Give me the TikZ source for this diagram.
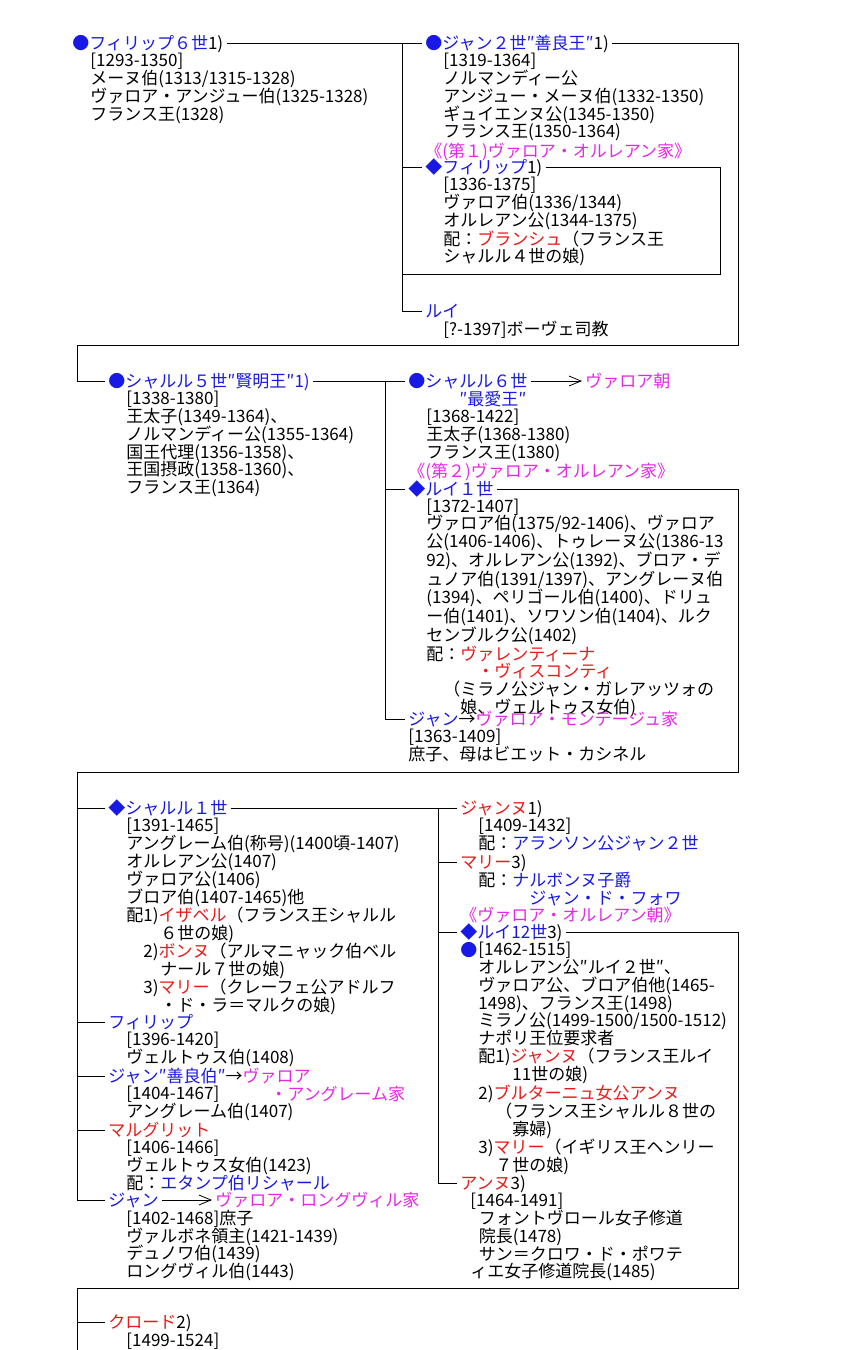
\documentclass[tikz,border=0pt]{standalone}
\usepackage{fontspec}
\setmainfont{Noto Sans CJK JP}
\usepackage{tikz}
\usetikzlibrary{arrows.meta}
\usepackage{xcolor}
\definecolor{nmblue}{RGB}{25,25,230}
\definecolor{hsmag}{RGB}{230,40,230}
\definecolor{wred}{RGB}{235,25,25}
\tikzset{
  every node/.style={font=\fontsize{17}{17.9}\selectfont},
  nm/.style={anchor=west, inner xsep=3pt, inner ysep=0pt, text height=14pt, text depth=1pt, text=nmblue},
  nmred/.style={nm, text=wred},
  house/.style={nm, text=hsmag},
  info/.style={anchor=north west, inner sep=0pt, align=left, yshift=8.5pt, execute at begin node={\rule{0pt}{15pt}}},
  arr/.style={-{Straight Barb[length=12pt,width=10pt]}},
}

\begin{document}
\begin{tikzpicture}[x=1pt,y=-1pt,line width=0.8pt]
        \useasboundingbox (0,0) rectangle (860,1350);
        \node[nm] (phil6) at (69,43) {●フィリップ６世\textcolor{black}{1)}};
        \node[info] (phil6i) at (90,61) {[1293-1350]\\メーヌ伯(1313/1315-1328)\\ヴァロア・アンジュー伯(1325-1328)\\フランス王(1328)};
        \node[nm] (jean2) at (422,43) {●ジャン２世″善良王″\textcolor{black}{1)}};
        \node[info] (jean2i) at (443,61) {[1319-1364]\\ノルマンディー公\\アンジュー・メーヌ伯(1332-1350)\\ギュイエンヌ公(1345-1350)\\フランス王(1350-1364)};
        \node[house] (orl1) at (422,151) {《(第１)ヴァロア・オルレアン家》};
        \node[nm] (phil) at (422,167) {◆フィリップ\textcolor{black}{1)}};
        \node[info] (phili) at (443,185) {[1336-1375]\\ヴァロア伯(1336/1344)\\オルレアン公(1344-1375)\\配：\textcolor{wred}{ブランシュ}（フランス王\\シャルル４世の娘)};
        \node[nm] (louisb) at (422,311) {ルイ};
        \node[info] (louisbi) at (443,329) {[?-1397]ボーヴェ司教};
        \coordinate (t1) at (402,0);
        \coordinate (c1) at (720,274);
        \coordinate (r1) at (738,345);
        \coordinate (l1) at (77,345);
        \draw (phil6.east) -- (phil6.east -| jean2.west);
        \draw (phil6.east -| t1) |- (louisb.west);
        \draw (t1 |- phil.west) -- (phil.west);
        \draw (phil.east) -| (c1) -- (c1 -| t1);

        \node[nm] (charles5) at (105,381) {●シャルル５世″賢明王″1)};
        \node[info] (charles5i) at (126,399) {[1338-1380]\\王太子(1349-1364)、\\ノルマンディー公(1355-1364)\\国王代理(1356-1358)、\\王国摂政(1358-1360)、\\フランス王(1364)};
        \node[nm] (charles6) at (405,381) {●シャルル６世};
        \node[nm] (charles6b) at (456,399) {″最愛王″};
        \node[house] (valoisd) at (582,381) {ヴァロア朝};
        \node[info] (charles6i) at (426,417) {[1368-1422]\\王太子(1368-1380)\\フランス王(1380)};
        \node[house] (orl2) at (405,471) {《(第２)ヴァロア・オルレアン家》};
        \node[nm] (louis1) at (405,489) {◆ルイ１世};
        \node[info, font=\fontsize{17}{17.6}\selectfont] (louis1i) at (426,507) {[1372-1407]\\ヴァロア伯(1375/92-1406)、ヴァロア\\公(1406-1406)、トゥレーヌ公(1386-13\\92)、オルレアン公(1392)、ブロア・デ\\ュノア伯(1391/1397)、アングレーヌ伯\\(1394)、ペリゴール伯(1400)、ドリュ\\ー伯(1401)、ソワソン伯(1404)、ルク\\センブルク公(1402)\\配：\textcolor{wred}{ヴァレンティーナ}\\\hspace*{3em}\textcolor{wred}{・ヴィスコンティ}\\\hspace*{1em}（ミラノ公ジャン・ガレアッツォの\\\hspace*{2em}娘、ヴェルトゥス女伯)};
        \node[nm] (jeanm) at (405,719) {ジャン\textcolor{black}{→}\textcolor{hsmag}{ヴァロア・モンテージュ家}};
        \node[info] (jeanmi) at (408,737) {[1363-1409]\\庶子、母はビエット・カシネル};
        \coordinate (t2) at (385,0);
        \coordinate (r2) at (738,772);
        \coordinate (l2) at (77,772);
        \draw (jean2.east) -| (r1) -- (l1) |- (charles5.west);
        \draw (charles5.east) -- (charles5.east -| charles6.west);
        \draw (charles5.east -| t2) |- (jeanm.west);
        \draw (t2 |- louis1.west) -- (louis1.west);
        \draw[arr] (charles6.east) -- (charles6.east -| valoisd.west);

        \node[nm] (charles1) at (105,808) {◆シャルル１世};
        \node[info] (charles1i) at (126,826) {[1391-1465]\\アングレーム伯(称号)(1400頃-1407)\\オルレアン公(1407)\\ヴァロア公(1406)\\ブロア伯(1407-1465)他\\配1)\textcolor{wred}{イザベル}（フランス王シャルル\\\hspace*{2em}６世の娘)\\\hspace*{1em}2)\textcolor{wred}{ボンヌ}（アルマニャック伯ベル\\\hspace*{2em}ナール７世の娘)\\\hspace*{1em}3)\textcolor{wred}{マリー}（クレーフェ公アドルフ\\\hspace*{2em}・ド・ラ＝マルクの娘)};
        \node[nm] (philv) at (105,1022) {フィリップ};
        \node[info] (philvi) at (126,1040) {[1396-1420]\\ヴェルトゥス伯(1408)};
        \node[nm] (jeana) at (105,1076) {ジャン″善良伯″\textcolor{black}{→}\textcolor{hsmag}{ヴァロア}};
        \node[house] (jeanah) at (267,1094) {・アングレーム家};
        \node[info] (jeanai) at (126,1094) {[1404-1467]\\アングレーム伯(1407)};
        \node[nmred] (marg) at (105,1130) {マルグリット};
        \node[info] (margi) at (126,1148) {[1406-1466]\\ヴェルトゥス女伯(1423)\\配：\textcolor{nmblue}{エタンプ伯リシャール}};
        \node[nm] (jeanl) at (105,1200) {ジャン};
        \node[house] (longv) at (212,1200) {ヴァロア・ロングヴィル家};
        \node[info] (jeanli) at (126,1218) {[1402-1468]庶子\\ヴァルボネ領主(1421-1439)\\デュノワ伯(1439)\\ロングヴィル伯(1443)};
        \draw (louis1.east) -| (r2) -- (l2) |- (jeanl.west);
        \draw (l2 |- charles1.west) -- (charles1.west);
        \draw (l2 |- philv.west) -- (philv.west);
        \draw (l2 |- jeana.west) -- (jeana.west);
        \draw (l2 |- marg.west) -- (marg.west);
        \draw[arr] (jeanl.east) -- (jeanl.east -| longv.west);

        \node[nmred] (jeanne) at (457,808) {ジャンヌ\textcolor{black}{1)}};
        \node[info] (jeannei) at (478,826) {[1409-1432]\\配：\textcolor{nmblue}{アランソン公ジャン２世}};
        \node[nmred] (marie) at (457,862) {マリー\textcolor{black}{3)}};
        \node[info] (mariei) at (478,880) {配：\textcolor{nmblue}{ナルボンヌ子爵}\\\hspace*{3em}\textcolor{nmblue}{ジャン・ド・フォワ}};
        \node[house] (orl3) at (457,915) {《ヴァロア・オルレアン朝》};
        \node[nm] (louis12) at (457,932) {◆ルイ12世\textcolor{black}{3)}};
        \node[nm] (louis12b) at (457,950) {●};
        \node[info] (louis12i) at (478,950) {[1462-1515]\\オルレアン公″ルイ２世″、\\ヴァロア公、ブロア伯他(1465-\\1498)、フランス王(1498)\\ミラノ公(1499-1500/1500-1512)\\ナポリ王位要求者\\配1)\textcolor{wred}{ジャンヌ}（フランス王ルイ\\\hspace*{2em}11世の娘)\\2)\textcolor{wred}{ブルターニュ女公アンヌ}\\\hspace*{1em}（フランス王シャルル８世の\\\hspace*{2em}寡婦)\\3)\textcolor{wred}{マリー}（イギリス王ヘンリー\\\hspace*{1em}７世の娘)};
        \node[nmred] (anne) at (457,1183) {アンヌ\textcolor{black}{3)}};
        \node[info] (annei) at (470,1201) {[1464-1491]\\\hspace*{0.5em}フォントヴロール女子修道\\\hspace*{0.5em}院長(1478)\\\hspace*{0.5em}サン＝クロワ・ド・ポワテ\\ィエ女子修道院長(1485)};
        \coordinate (t3) at (438,0);
        \coordinate (r3) at (738,1288);
        \coordinate (l3) at (77,1288);
        \coordinate (b3) at (77,1350);
        \draw (charles1.east) -- (charles1.east -| jeanne.west);
        \draw (charles1.east -| t3) |- (anne.west);
        \draw (t3 |- marie.west) -- (marie.west);
        \draw (t3 |- louis12.west) -- (louis12.west);
        \draw (louis12.east) -| (r3) -- (l3) -- (b3);

        \node[nmred] (claude) at (105,1322) {クロード\textcolor{black}{2)}};
        \node[info] (claudei) at (126,1340) {[1499-1524]};
        \draw (l3 |- claude.west) -- (claude.west);
      \end{tikzpicture}
\end{document}
